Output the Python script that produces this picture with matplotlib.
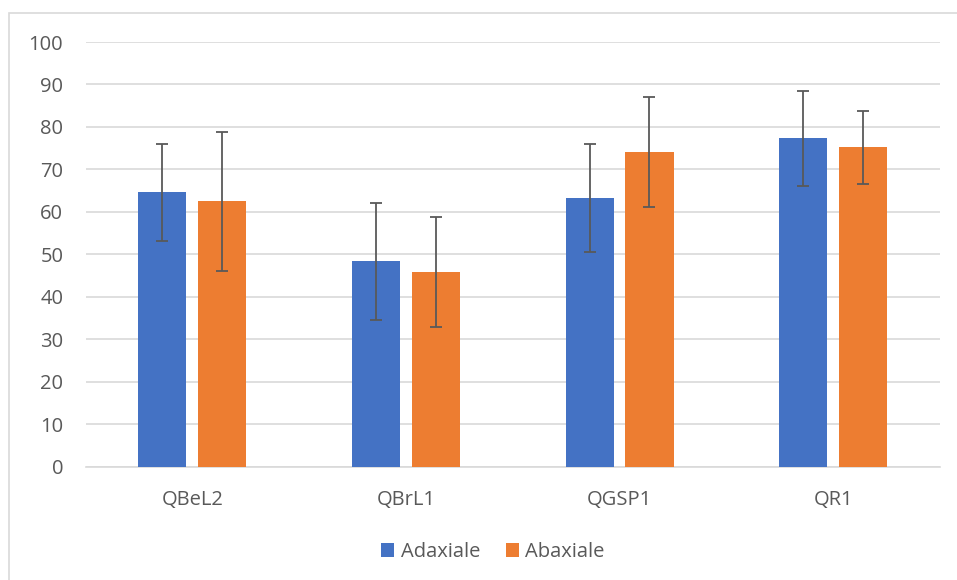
import matplotlib
matplotlib.use("Agg")
import matplotlib.pyplot as plt
import numpy as np
from matplotlib.patches import Rectangle

categories = ["QBeL2", "QBrL1", "QGSP1", "QR1"]
series_names = ["Adaxiale", "Abaxiale"]
adaxiale = [64.6, 48.3, 63.2, 77.3]
adaxiale_err = [11.4, 13.7, 12.7, 11.2]
abaxiale = [62.5, 45.8, 74.1, 75.2]
abaxiale_err = [16.4, 12.9, 12.9, 8.6]
yticks = [0, 10, 20, 30, 40, 50, 60, 70, 80, 90, 100]

colors = ["#4472C4", "#ED7D31"]
text_color = "#595959"

plt.rcParams['font.family'] = ['Open Sans', 'DejaVu Sans']

fig = plt.figure(figsize=(9.57, 5.8), dpi=100)
fig.patch.set_facecolor("white")
fig.patches.append(Rectangle((9/957, -0.1), 1.1, 1 - 13/580 + 0.1, transform=fig.transFigure,
                             fill=False, edgecolor="#D9D9D9", linewidth=1.2))

ax = fig.add_axes([85.5/957, 1 - 466.5/580, (940 - 85.5)/957, (466.5 - 42)/580])

x = np.arange(len(categories))
w = 0.225
off = 0.14
err_kw = dict(ecolor="#595959", elinewidth=1.3, capsize=4.2, capthick=1.3)
ax.bar(x - off, adaxiale, w, color=colors[0], yerr=adaxiale_err, error_kw=err_kw, label=series_names[0], zorder=3)
ax.bar(x + off, abaxiale, w, color=colors[1], yerr=abaxiale_err, error_kw=err_kw, label=series_names[1], zorder=3)

ax.set_xlim(-0.5, len(categories) - 0.5)
ax.set_ylim(0, 100)
ax.set_yticks(yticks)
ax.set_xticks(x)
ax.set_xticklabels(categories)
ax.yaxis.grid(True, color="#D9D9D9", linewidth=1.2, zorder=0)
ax.set_axisbelow(True)
for s in ["top", "right", "left"]:
    ax.spines[s].set_visible(False)
ax.spines["bottom"].set_color("#D9D9D9")
ax.spines["bottom"].set_linewidth(1.2)
ax.tick_params(axis="both", length=0, colors=text_color, labelsize=14.5)
ax.tick_params(axis="x", pad=17)
ax.tick_params(axis="y", pad=16)

leg = fig.legend(loc="center", bbox_to_anchor=(493/957, 1 - 552/580), ncol=2, frameon=False,
                 fontsize=14.5, handlelength=0.65, handleheight=0.65, handletextpad=0.3, columnspacing=1.3)
for t in leg.get_texts():
    t.set_color(text_color)

fig.savefig("out.png", dpi=100)
